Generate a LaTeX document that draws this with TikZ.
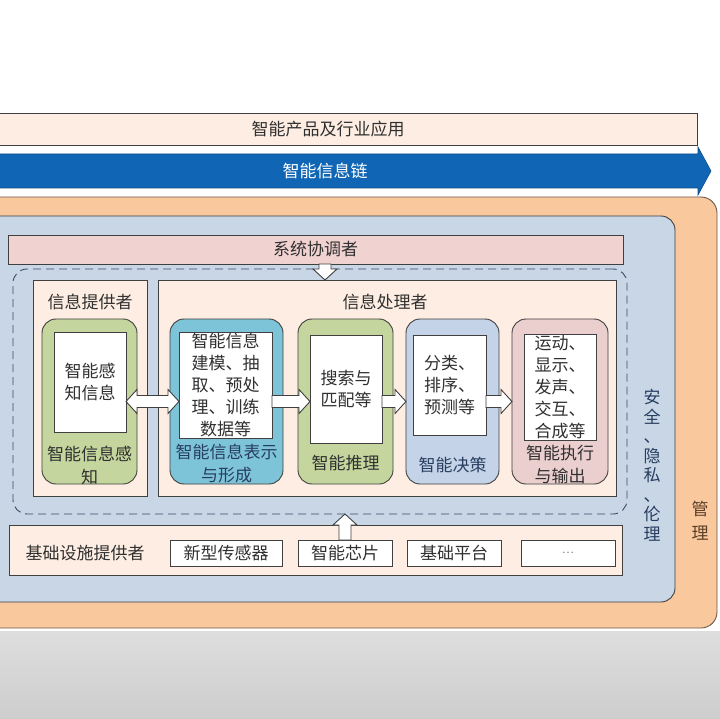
\documentclass[tikz,border=0pt]{standalone}
\usepackage{fontspec}
\setmainfont{Noto Sans CJK SC}
\usepackage{xcolor}
\usepackage{tikz}
\usetikzlibrary{positioning,calc}

\definecolor{edge}{RGB}{64,64,64}
\definecolor{txt}{RGB}{48,48,48}
\definecolor{peach}{RGB}{253,237,226}
\definecolor{chainblue}{RGB}{16,102,181}
\definecolor{mgmt}{RGB}{249,200,156}
\definecolor{mgmtedge}{RGB}{110,90,75}
\definecolor{secblue}{RGB}{200,214,230}
\definecolor{coordpink}{RGB}{240,210,208}
\definecolor{stagegreen}{RGB}{196,214,158}
\definecolor{stageteal}{RGB}{126,196,216}
\definecolor{stageblue}{RGB}{196,211,231}
\definecolor{stagepink}{RGB}{234,207,206}
\definecolor{navy}{RGB}{40,62,96}
\definecolor{brownish}{RGB}{92,62,40}

\tikzset{
  pane/.style={draw=edge, line width=0.9pt, inner sep=0pt, outer sep=0pt},
  stage/.style={pane, rounded corners=14pt, minimum height=165pt},
  card/.style={pane, fill=white},
  cn/.style={font=\fontsize{17}{22}\selectfont, text=txt, align=center, inner sep=0pt},
  hollow/.style={draw=edge, fill=white, line width=0.9pt},
  fwd/.style={hollow, to path={(\tikztostart) coordinate (ar s) (\tikztotarget) coordinate (ar t)
    ($(ar t)!11pt!(ar s)$) coordinate (ar h)
    ($(ar s)!6pt!90:(ar t)$) -- ($(ar h)!6pt!-90:(ar s)$) -- ($(ar h)!12pt!-90:(ar s)$) -- (ar t)
    -- ($(ar h)!12pt!90:(ar s)$) -- ($(ar h)!6pt!90:(ar s)$) -- ($(ar s)!6pt!-90:(ar t)$) -- cycle}},
  dbl/.style={hollow, to path={(\tikztostart) coordinate (ar s) (\tikztotarget) coordinate (ar t)
    ($(ar s)!11pt!(ar t)$) coordinate (ar g) ($(ar t)!11pt!(ar s)$) coordinate (ar h)
    (ar s) -- ($(ar g)!12pt!90:(ar t)$) -- ($(ar g)!6pt!90:(ar t)$) -- ($(ar h)!6pt!-90:(ar s)$)
    -- ($(ar h)!12pt!-90:(ar s)$) -- (ar t) -- ($(ar h)!12pt!90:(ar s)$) -- ($(ar h)!6pt!90:(ar s)$)
    -- ($(ar g)!6pt!-90:(ar t)$) -- ($(ar g)!12pt!-90:(ar t)$) -- cycle}}
}

\begin{document}
\begin{tikzpicture}[x=1pt, y=-1pt]
\useasboundingbox (0,0) rectangle (720,719);
\clip (0,0) rectangle (720,719);
\fill[white] (0,0) rectangle (720,719);
\shade[top color={rgb,255:red,222;green,222;blue,222}, bottom color={rgb,255:red,205;green,205;blue,205}] (0,631) rectangle (720,719);

\node[pane, fill=peach, minimum width=738pt, minimum height=32pt, cn, font=\fontsize{17}{22}\selectfont] (app) at (328,129) {智能产品及行业应用};
\filldraw[fill=chainblue, draw=chainblue!75!black, line width=0.6pt] (-10,154) -- (698,154) -- (698,147) -- (711,171) -- (698,195) -- (698,188) -- (-10,188) -- cycle;
\node[cn, text=white] (chain) at (325,171) {智能信息链};

\node[pane, draw=mgmtedge, fill=mgmt, rounded corners=16pt, minimum width=760pt, minimum height=431pt] (mgmt) at (337,412.5) {};
\node[pane, fill=secblue, rounded corners=14pt, minimum width=718pt, minimum height=386pt] (sec) at (316,409) {};
\node[pane, fill=coordpink, minimum width=615pt, minimum height=29pt, cn] (coord) at (315.5,249.5) {系统协调者};
\node[pane, draw=navy!80!gray, dashed, dash pattern=on 8pt off 5pt, rounded corners=14pt, minimum width=614pt, minimum height=245pt] (dash) at (320,391.5) {};

\node[pane, fill=peach, minimum width=114pt, minimum height=216pt] (prov) at (90,388) {};
\node[pane, fill=peach, minimum width=458pt, minimum height=216pt] (proc) at (387,388) {};
\node[cn] (provt) at (90,302) {信息提供者};
\node[cn] (proct) at (385,302) {信息处理者};

\node[stage, fill=stagegreen, minimum width=95pt] (s1) at (89.5,401.5) {};
\node[stage, fill=stageteal, minimum width=113pt] (s2) at (226.5,401.5) {};
\node[stage, fill=stagegreen, minimum width=95pt] (s3) at (345.5,401.5) {};
\node[stage, fill=stageblue, minimum width=93pt] (s4) at (452.5,401.5) {};
\node[stage, fill=stagepink, minimum width=96pt] (s5) at (560,401.5) {};

\node[card, minimum width=72pt, minimum height=100pt, cn] (s1i) at (90,382) {智能感\\知信息};
\node[card, minimum width=93pt, minimum height=106pt, cn] (s2i) at (225.5,385) {智能信息\\建模、抽\\取、预处\\理、训练\\数据等};
\node[card, minimum width=72pt, minimum height=108pt, cn] (s3i) at (346,389) {搜索与\\匹配等};
\node[card, minimum width=73pt, minimum height=100pt, cn, align=left] (s4i) at (449.5,385) {分类、\\排序、\\预测等};
\node[card, minimum width=72pt, minimum height=106pt, cn, align=left] (s5i) at (560,387) {运动、\\显示、\\发声、\\交互、\\合成等};

\node[cn, font=\fontsize{17}{23}\selectfont] (s1t) at (89.5,465) {智能信息感\\知};
\node[cn, font=\fontsize{17}{23}\selectfont, text=navy] (s2t) at (226.5,464) {智能信息表示\\与形成};
\node[cn] (s3t) at (345.5,463) {智能推理};
\node[cn, text=navy] (s4t) at (452.5,465) {智能决策};
\node[cn, font=\fontsize{17}{23}\selectfont] (s5t) at (560,465) {智能执行\\与输出};

\node[pane, fill=peach, minimum width=613pt, minimum height=50pt] (infra) at (315.5,550) {};
\node[cn] (infrat) at (85,553) {基础设施提供者};
\node[card, minimum width=112pt, minimum height=26pt, cn] (sensor) at (226,553) {新型传感器};
\node[card, minimum width=94pt, minimum height=26pt, cn] (chip) at (345,553) {智能芯片};
\node[card, minimum width=94pt, minimum height=26pt, cn] (platform) at (454,553) {基础平台};
\node[card, minimum width=94pt, minimum height=26pt, cn, font=\fontsize{11}{13}\selectfont, text=gray] (more) at (568,553) {…};

\node[cn, font=\fontsize{17}{19.5}\selectfont, text=navy] (ethics) at (652,465) {安\\全\\、\\隐\\私\\、\\伦\\理};
\node[cn, font=\fontsize{17}{24}\selectfont, text=brownish] (mgmtt) at (700,521) {管\\理};

\coordinate (tap) at (325,264);
\draw[dbl] (s1i.east |- s1) to (s2i.west |- s2);
\draw[fwd] (s2i.east |- s2) to (s3i.west |- s3);
\draw[fwd] (s3i.east |- s3) to (s4.west);
\draw[fwd] (s4i.east |- s4) to (s5.west);
\draw[fwd] (tap) to (tap |- proc.north);
\draw[fwd] (chip.north) to (chip.north |- dash.south);
\end{tikzpicture}
\end{document}
